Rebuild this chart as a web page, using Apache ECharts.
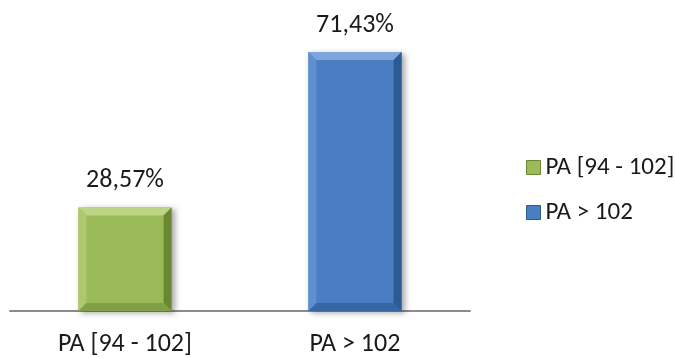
<!DOCTYPE html>
<html>
<head>
<meta charset="utf-8">
<script src="https://cdn.jsdelivr.net/npm/echarts@6/dist/echarts.min.js"></script>
<style>
  html, body { margin: 0; padding: 0; background: #fff; }
  #chart { width: 675px; height: 358px; }
</style>
</head>
<body>
<div id="chart"></div>
<script>
// Categories and shares (percent)
const categories = ['PA [94 - 102]', 'PA > 102'];
const shareValues = [28.57, 71.43];

// Bevel palette per category: face, top, left, right, bottom
const palettes = [
  { face: '#9bbb59', top: '#bcd585', left: '#adc86e', right: '#6b8733', bottom: '#819f45' },
  { face: '#4a7ec2', top: '#7ea6dc', left: '#5f8fcf', right: '#2b5a94', bottom: '#3566a6' }
];

const FONT = 'Carlito, Lato, "Open Sans", sans-serif';
const FONT_SIZE = 26;
const LEGEND_FONT_SIZE = 25;

function fmt(v) {
  return v.toFixed(2).replace('.', ',') + '%';
}

function makeRender(pal) {
  return function (params, api) {
    const idx = api.value(0);
    const val = api.value(1);
    const top = api.coord([idx, val]);
    const base = api.coord([idx, 0]);
    const bandW = api.size([1, 0])[0];
    const w = bandW * 0.405;
    const x = top[0] - w / 2;
    const y = top[1];
    const h = base[1] - top[1];
    const b = 8;
    return {
      type: 'group',
      children: [
        { type: 'rect', shape: { x: x, y: y, width: w, height: h },
          style: { fill: pal.face, shadowBlur: 6, shadowOffsetX: 3, shadowOffsetY: 2, shadowColor: 'rgba(0,0,0,0.35)' } },
        { type: 'polygon', shape: { points: [[x, y], [x + w, y], [x + w - b, y + b], [x + b, y + b]] }, style: { fill: pal.top } },
        { type: 'polygon', shape: { points: [[x, y], [x + b, y + b], [x + b, y + h - b], [x, y + h]] }, style: { fill: pal.left } },
        { type: 'polygon', shape: { points: [[x + w, y], [x + w, y + h], [x + w - b, y + h - b], [x + w - b, y + b]] }, style: { fill: pal.right } },
        { type: 'polygon', shape: { points: [[x, y + h], [x + w, y + h], [x + w - b, y + h - b], [x + b, y + h - b]] }, style: { fill: pal.bottom } },
        { type: 'text', style: { text: fmt(val), x: top[0], y: y - 27, align: 'center', verticalAlign: 'middle',
          font: FONT_SIZE + 'px ' + FONT, fill: '#1a1a1a' } }
      ]
    };
  };
}

const series = categories.map((name, i) => ({
  name: name,
  type: 'custom',
  renderItem: makeRender(palettes[i]),
  itemStyle: { color: palettes[i].face },
  encode: { x: 0, y: 1 },
  data: [[i, shareValues[i]]],
  z: 2
}));

const chart = echarts.init(document.getElementById('chart'), null, { renderer: 'canvas' });
chart.setOption({
  animation: false,
  grid: { left: 10, right: 205, top: 21, bottom: 47 },
  legend: {
    orient: 'vertical',
    left: 521,
    top: 150,
    itemWidth: 14,
    itemHeight: 14,
    itemGap: 20,
    icon: 'rect',
    textStyle: { fontFamily: FONT, fontSize: LEGEND_FONT_SIZE, color: '#1a1a1a' },
    data: categories.map((name, i) => ({
      name: name,
      itemStyle: { color: palettes[i].face, borderColor: palettes[i].right, borderWidth: 1 }
    }))
  },
  xAxis: {
    type: 'category',
    data: categories,
    axisLine: { lineStyle: { color: '#8c8c8c', width: 2 } },
    axisTick: { show: false },
    axisLabel: { margin: 20, fontFamily: FONT, fontSize: FONT_SIZE, color: '#1a1a1a' }
  },
  yAxis: {
    type: 'value',
    min: 0,
    max: 80,
    show: false
  },
  series: series
});
</script>
</body>
</html>
